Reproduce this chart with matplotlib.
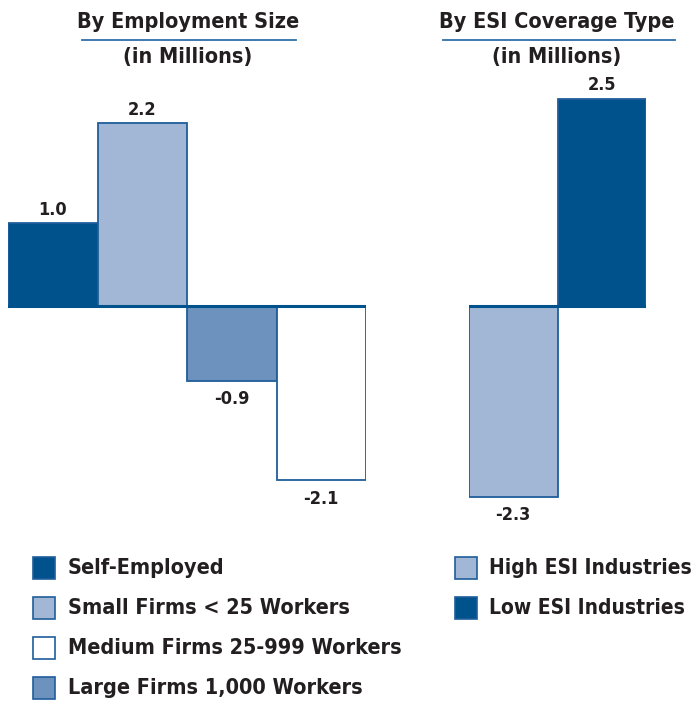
import matplotlib
matplotlib.use("Agg")
import matplotlib.pyplot as plt
from matplotlib.patches import Rectangle
from matplotlib.lines import Line2D

plt.rcParams['font.family'] = ['DejaVu Sans']
plt.rcParams['font.weight'] = 'bold'
plt.rcParams['font.stretch'] = 'condensed'

# Change in coverage, in millions
size_labels = ["Self-Employed", "Small Firms < 25 Workers",
               "Large Firms 1,000 Workers", "Medium Firms 25-999 Workers"]
size_values = [1.0, 2.2, -0.9, -2.1]
size_colors = ["#00528C", "#A2B6D5", "#6C92BD", "#FFFFFF"]

esi_labels = ["High ESI Industries", "Low ESI Industries"]
esi_values = [-2.3, 2.5]
esi_colors = ["#A2B6D5", "#00528C"]

legend_left = ["Self-Employed", "Small Firms < 25 Workers",
               "Medium Firms 25-999 Workers", "Large Firms 1,000 Workers"]
legend_left_colors = ["#00528C", "#A2B6D5", "#FFFFFF", "#6C92BD"]

EDGE = "#1F5E9B"
TEXT = "#231F20"
W, H = 695, 704
BIG = 15.5

fig = plt.figure(figsize=(W / 100, H / 100), dpi=100)

# y range chosen so that zero sits at 306 px from the top, ~83 px per million
ppu = 83.0
y_top = 306 / ppu
y_bot = -(H - 306) / ppu


def panel(x0, x1, values, colors):
    ax = fig.add_axes([x0 / W, 0, (x1 - x0) / W, 1])
    ax.set_xlim(0, len(values))
    ax.set_ylim(y_bot, y_top)
    ax.axis('off')
    xs = list(range(len(values)))
    ax.bar(xs, values, width=1, align='edge', color=colors,
           edgecolor=EDGE, linewidth=1.3, zorder=2)
    ax.axhline(0, color="#00528C", linewidth=2.2, zorder=3)
    for x, v in zip(xs, values):
        off = 0.16 if v > 0 else -0.22
        ax.text(x + 0.5, v + off, f"{v:.1f}", ha='center', va='center',
                fontsize=13, color=TEXT, fontweight='bold')
    return ax


panel(8, 366, size_values, size_colors)
panel(469, 646, esi_values, esi_colors)


def title(cx, x0, x1, text):
    fig.text(cx / W, 1 - 22 / H, text, ha='center', va='center',
             fontsize=BIG, color=TEXT, fontweight='bold')
    fig.add_artist(Line2D([x0 / W, x1 / W], [1 - 40 / H, 1 - 40 / H],
                          color="#2F6FA8", linewidth=1.3))
    fig.text(cx / W, 1 - 57 / H, "(in Millions)", ha='center', va='center',
             fontsize=BIG, color=TEXT, fontweight='bold')


title(188, 82, 296, "By Employment Size")
title(557, 443, 675, "By ESI Coverage Type")


def legend(x_box, x_text, rows, labels, colors, size):
    for y, lab, col in zip(rows, labels, colors):
        fig.add_artist(Rectangle((x_box / W, 1 - (y + 11) / H), 22 / W, 22 / H,
                                 facecolor=col, edgecolor=EDGE, linewidth=1.2))
        fig.text(x_text / W, 1 - y / H, lab, ha='left', va='center',
                 fontsize=size, color=TEXT, fontweight='bold')


legend(33, 68, [568, 608, 648, 688], legend_left, legend_left_colors, BIG)
legend(455, 489, [568, 608], esi_labels, esi_colors, 15)

fig.savefig("out.png", dpi=100)
